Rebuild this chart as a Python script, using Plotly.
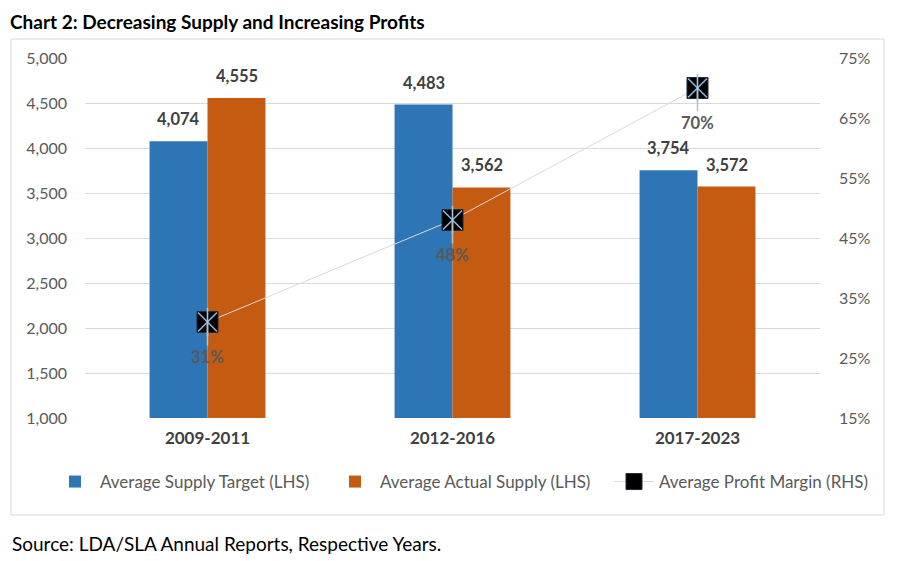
import plotly.graph_objects as go

categories = ["2009-2011", "2012-2016", "2017-2023"]
supply_target = [4074, 4483, 3754]
actual_supply = [4555, 3562, 3572]
profit_margin = [31, 48, 70]

left_ticks = list(range(1000, 5001, 500))
right_ticks = list(range(15, 76, 10))
right_labels = [f"{v}%" for v in right_ticks]

FONT = "Lato, 'Open Sans', sans-serif"
BLUE = "#2E75B6"
ORANGE = "#C55A11"
MARK_LINE = "#8FB4DA"

fig = go.Figure()
fig.add_trace(go.Bar(x=categories, y=supply_target, name="Average Supply Target (LHS)",
                     marker=dict(color=BLUE, line=dict(width=0)), legend="legend"))
fig.add_trace(go.Bar(x=categories, y=actual_supply, name="Average Actual Supply (LHS)",
                     marker=dict(color=ORANGE, line=dict(width=0)), legend="legend2"))
fig.add_trace(go.Scatter(x=categories, y=profit_margin, yaxis="y2", mode="lines+markers",
                         name="Average Profit Margin (RHS)", legend="legend3",
                         line=dict(color="#D9D9D9", width=1),
                         marker=dict(symbol="square", size=21, color="#000000",
                                     line=dict(color="#1F2A3A", width=1))))
fig.add_trace(go.Scatter(x=categories, y=profit_margin, yaxis="y2", mode="markers",
                         showlegend=False, hoverinfo="skip",
                         marker=dict(symbol="x-thin-open", size=19, color=MARK_LINE,
                                     line=dict(color=MARK_LINE, width=1.6))))
fig.add_trace(go.Scatter(x=categories, y=profit_margin, yaxis="y2", mode="markers",
                         showlegend=False, hoverinfo="skip",
                         marker=dict(symbol="line-ns-open", size=20, color="#A9C4DE",
                                     line=dict(color="#A9C4DE", width=1.6))))

ann = []
for i, c in enumerate(categories):
    ann.append(dict(x=c, y=supply_target[i], xref="x", yref="y", text=f"<b>{supply_target[i]:,}</b>",
                    showarrow=False, xshift=-29, yshift=10, yanchor="bottom",
                    font=dict(family=FONT, size=16.5, color="#404040")))
    ann.append(dict(x=c, y=actual_supply[i], xref="x", yref="y", text=f"<b>{actual_supply[i]:,}</b>",
                    showarrow=False, xshift=29, yshift=10, yanchor="bottom",
                    font=dict(family=FONT, size=16.5, color="#404040")))
    ann.append(dict(x=c, y=profit_margin[i], xref="x", yref="y2", text=f"<b>{profit_margin[i]}%</b>",
                    showarrow=True, ax=0, ay=35, arrowhead=0, arrowwidth=1.5,
                    arrowcolor="#BFBFBF", standoff=0,
                    font=dict(family=FONT, size=16.5, color="#595959")))

# paper coords: x = (px - 77)/735, y = (410 - py)/360  (page offset of 8px included)
def px(fx):
    return (fx - 77) / 735

def py(fy):
    return (410 - fy) / 360

ann.append(dict(x=px(0), y=py(0), xref="paper", yref="paper", xanchor="left", yanchor="top",
                text="<b>Chart 2: Decreasing Supply and Increasing Profits</b>", showarrow=False,
                font=dict(family=FONT, size=19, color="#000000")))
ann.append(dict(x=px(2), y=py(535), xref="paper", yref="paper", xanchor="left", yanchor="middle",
                text="Source: LDA/SLA Annual Reports, Respective Years.", showarrow=False,
                font=dict(family=FONT, size=19, color="#000000")))

leg_common = dict(orientation="h", yanchor="middle", y=py(474), xanchor="left",
                  font=dict(family=FONT, size=17, color="#595959"), itemwidth=40,
                  bgcolor="rgba(0,0,0,0)")

fig.update_layout(
    width=892, height=553,
    margin=dict(l=77, r=80, t=50, b=143),
    paper_bgcolor="white", plot_bgcolor="white",
    font=dict(family=FONT, color="#595959", size=16),
    barmode="group", bargap=0.527, bargroupgap=0,
    showlegend=True,
    legend=dict(x=px(42), **leg_common),
    legend2=dict(x=px(322), **leg_common),
    legend3=dict(x=px(601), **leg_common),
    xaxis=dict(type="category", showgrid=False, showline=False, ticks="",
               tickfont=dict(family=FONT, size=17, color="#404040"), ticklabelstandoff=8,
               tickprefix="<b>", ticksuffix="</b>"),
    yaxis=dict(range=[1000, 5000], tickvals=left_ticks, tickformat=",", showgrid=True,
               gridcolor="#D9D9D9", gridwidth=1, zeroline=False, showline=False, ticks="",
               tickfont=dict(family=FONT, size=16, color="#595959"), ticklabelstandoff=17),
    yaxis2=dict(range=[15, 75], tickvals=right_ticks, ticktext=right_labels, overlaying="y", side="right",
                showgrid=False, zeroline=False, showline=False, ticks="",
                tickfont=dict(family=FONT, size=16, color="#595959"), ticklabelstandoff=18),
    annotations=ann,
    shapes=[dict(type="rect", xref="paper", yref="paper",
                 x0=px(3), x1=px(876), y0=py(507), y1=py(31),
                 line=dict(color="#D9D9D9", width=1), fillcolor="rgba(0,0,0,0)", layer="below")],
)

fig.write_html("out.html")
